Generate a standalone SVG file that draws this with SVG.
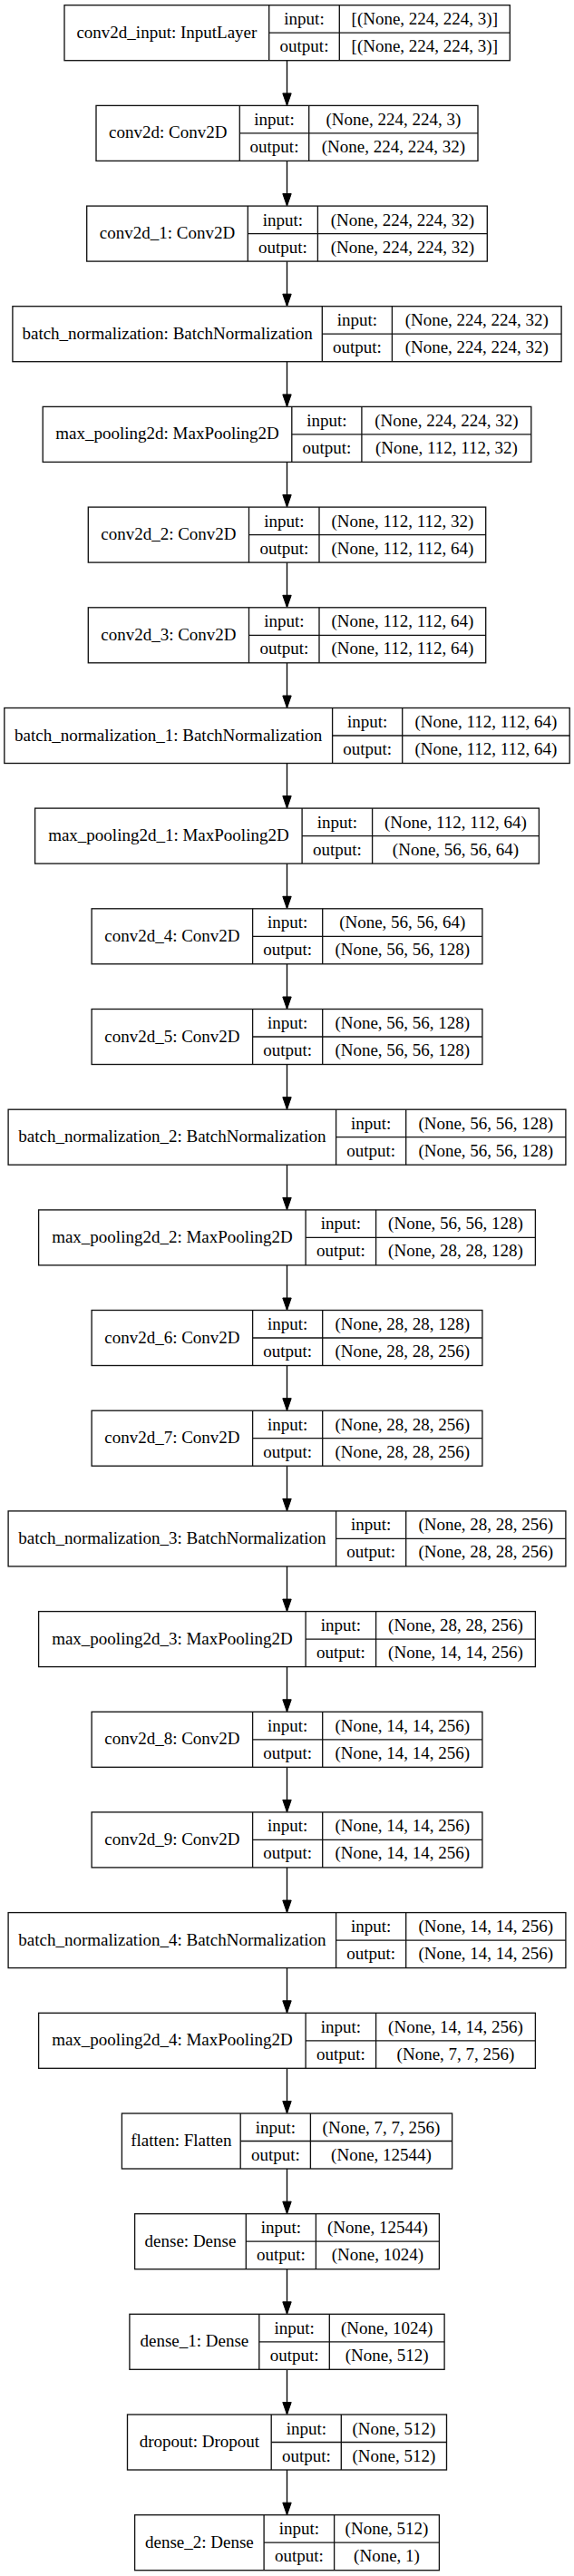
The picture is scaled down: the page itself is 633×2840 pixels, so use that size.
<svg xmlns="http://www.w3.org/2000/svg" width="633" height="2840" viewBox="0 0 633 2840">
<style>
.n rect{fill:#fff;stroke:#111;stroke-width:1.33}
.n line{stroke:#111;stroke-width:1.33}
text{font-family:"Liberation Serif","Times New Roman",serif;font-size:19px;text-anchor:middle;fill:#000}
.e line{stroke:#000;stroke-width:1.33}
</style>
<defs>
<marker id="ah" markerUnits="userSpaceOnUse" markerWidth="14" markerHeight="10" refX="13.5" refY="4.7" orient="auto" overflow="visible">
<path d="M0,0 L13.5,4.7 L0,9.4 Z" fill="#000" stroke="#000" stroke-width="1"/>
</marker>
</defs>
<rect width="633" height="2840" fill="#fff"/>
<g id="edges" class="e">
<line x1="316.5" y1="66.7" x2="316.5" y2="116.4" marker-end="url(#ah)"/>
<line x1="316.5" y1="177.4" x2="316.5" y2="227.1" marker-end="url(#ah)"/>
<line x1="316.5" y1="288.1" x2="316.5" y2="337.7" marker-end="url(#ah)"/>
<line x1="316.5" y1="398.7" x2="316.5" y2="448.4" marker-end="url(#ah)"/>
<line x1="316.5" y1="509.4" x2="316.5" y2="559.1" marker-end="url(#ah)"/>
<line x1="316.5" y1="620.1" x2="316.5" y2="669.8" marker-end="url(#ah)"/>
<line x1="316.5" y1="730.8" x2="316.5" y2="780.5" marker-end="url(#ah)"/>
<line x1="316.5" y1="841.5" x2="316.5" y2="891.1" marker-end="url(#ah)"/>
<line x1="316.5" y1="952.1" x2="316.5" y2="1001.8" marker-end="url(#ah)"/>
<line x1="316.5" y1="1062.8" x2="316.5" y2="1112.5" marker-end="url(#ah)"/>
<line x1="316.5" y1="1173.5" x2="316.5" y2="1223.2" marker-end="url(#ah)"/>
<line x1="316.5" y1="1284.2" x2="316.5" y2="1333.9" marker-end="url(#ah)"/>
<line x1="316.5" y1="1394.9" x2="316.5" y2="1444.5" marker-end="url(#ah)"/>
<line x1="316.5" y1="1505.5" x2="316.5" y2="1555.2" marker-end="url(#ah)"/>
<line x1="316.5" y1="1616.2" x2="316.5" y2="1665.9" marker-end="url(#ah)"/>
<line x1="316.5" y1="1726.9" x2="316.5" y2="1776.6" marker-end="url(#ah)"/>
<line x1="316.5" y1="1837.6" x2="316.5" y2="1887.3" marker-end="url(#ah)"/>
<line x1="316.5" y1="1948.3" x2="316.5" y2="1997.9" marker-end="url(#ah)"/>
<line x1="316.5" y1="2058.9" x2="316.5" y2="2108.6" marker-end="url(#ah)"/>
<line x1="316.5" y1="2169.6" x2="316.5" y2="2219.3" marker-end="url(#ah)"/>
<line x1="316.5" y1="2280.3" x2="316.5" y2="2330.0" marker-end="url(#ah)"/>
<line x1="316.5" y1="2391.0" x2="316.5" y2="2440.7" marker-end="url(#ah)"/>
<line x1="316.5" y1="2501.7" x2="316.5" y2="2551.3" marker-end="url(#ah)"/>
<line x1="316.5" y1="2612.3" x2="316.5" y2="2662.0" marker-end="url(#ah)"/>
<line x1="316.5" y1="2723.0" x2="316.5" y2="2772.7" marker-end="url(#ah)"/>
</g>

<g id="conv2d_input" class="n" transform="translate(0,5.7)">
<rect x="71" y="0" width="491.3" height="61"/>
<line x1="296.7" y1="0" x2="296.7" y2="61"/><line x1="374.3" y1="0" x2="374.3" y2="61"/><line x1="296.7" y1="30.5" x2="562.3" y2="30.5"/>
<text x="183.9" y="36">conv2d_input: InputLayer</text>
<text x="335.5" y="21.6">input:</text><text x="335.5" y="51.5">output:</text>
<text x="468.3" y="21.6">[(None, 224, 224, 3)]</text><text x="468.3" y="51.5">[(None, 224, 224, 3)]</text>
</g>

<g id="conv2d" class="n" transform="translate(0,116.4)">
<rect x="106" y="0" width="421" height="61"/>
<line x1="264.3" y1="0" x2="264.3" y2="61"/><line x1="340.7" y1="0" x2="340.7" y2="61"/><line x1="264.3" y1="30.5" x2="527" y2="30.5"/>
<text x="185.2" y="36">conv2d: Conv2D</text>
<text x="302.5" y="21.6">input:</text><text x="302.5" y="51.5">output:</text>
<text x="433.9" y="21.6">(None, 224, 224, 3)</text><text x="433.9" y="51.5">(None, 224, 224, 32)</text>
</g>

<g id="conv2d_1" class="n" transform="translate(0,227.1)">
<rect x="95.7" y="0" width="441.6" height="61"/>
<line x1="273.3" y1="0" x2="273.3" y2="61"/><line x1="350.4" y1="0" x2="350.4" y2="61"/><line x1="273.3" y1="30.5" x2="537.3" y2="30.5"/>
<text x="184.5" y="36">conv2d_1: Conv2D</text>
<text x="311.9" y="21.6">input:</text><text x="311.9" y="51.5">output:</text>
<text x="443.9" y="21.6">(None, 224, 224, 32)</text><text x="443.9" y="51.5">(None, 224, 224, 32)</text>
</g>

<g id="batch_normalization" class="n" transform="translate(0,337.7)">
<rect x="13.9" y="0" width="605.2" height="61"/>
<line x1="355.3" y1="0" x2="355.3" y2="61"/><line x1="432.4" y1="0" x2="432.4" y2="61"/><line x1="355.3" y1="30.5" x2="619.1" y2="30.5"/>
<text x="184.6" y="36">batch_normalization: BatchNormalization</text>
<text x="393.9" y="21.6">input:</text><text x="393.9" y="51.5">output:</text>
<text x="525.8" y="21.6">(None, 224, 224, 32)</text><text x="525.8" y="51.5">(None, 224, 224, 32)</text>
</g>

<g id="max_pooling2d" class="n" transform="translate(0,448.4)">
<rect x="47.2" y="0" width="538.6" height="61"/>
<line x1="321.8" y1="0" x2="321.8" y2="61"/><line x1="398.9" y1="0" x2="398.9" y2="61"/><line x1="321.8" y1="30.5" x2="585.8" y2="30.5"/>
<text x="184.5" y="36">max_pooling2d: MaxPooling2D</text>
<text x="360.4" y="21.6">input:</text><text x="360.4" y="51.5">output:</text>
<text x="492.4" y="21.6">(None, 224, 224, 32)</text><text x="492.4" y="51.5">(None, 112, 112, 32)</text>
</g>

<g id="conv2d_2" class="n" transform="translate(0,559.1)">
<rect x="97.3" y="0" width="438.4" height="61"/>
<line x1="274.5" y1="0" x2="274.5" y2="61"/><line x1="352" y1="0" x2="352" y2="61"/><line x1="274.5" y1="30.5" x2="535.7" y2="30.5"/>
<text x="185.9" y="36">conv2d_2: Conv2D</text>
<text x="313.3" y="21.6">input:</text><text x="313.3" y="51.5">output:</text>
<text x="443.9" y="21.6">(None, 112, 112, 32)</text><text x="443.9" y="51.5">(None, 112, 112, 64)</text>
</g>

<g id="conv2d_3" class="n" transform="translate(0,669.8)">
<rect x="97.3" y="0" width="438.4" height="61"/>
<line x1="274.5" y1="0" x2="274.5" y2="61"/><line x1="352" y1="0" x2="352" y2="61"/><line x1="274.5" y1="30.5" x2="535.7" y2="30.5"/>
<text x="185.9" y="36">conv2d_3: Conv2D</text>
<text x="313.3" y="21.6">input:</text><text x="313.3" y="51.5">output:</text>
<text x="443.9" y="21.6">(None, 112, 112, 64)</text><text x="443.9" y="51.5">(None, 112, 112, 64)</text>
</g>

<g id="batch_normalization_1" class="n" transform="translate(0,780.5)">
<rect x="4.8" y="0" width="623.4" height="61"/>
<line x1="366.6" y1="0" x2="366.6" y2="61"/><line x1="443.7" y1="0" x2="443.7" y2="61"/><line x1="366.6" y1="30.5" x2="628.2" y2="30.5"/>
<text x="185.7" y="36">batch_normalization_1: BatchNormalization</text>
<text x="405.2" y="21.6">input:</text><text x="405.2" y="51.5">output:</text>
<text x="536" y="21.6">(None, 112, 112, 64)</text><text x="536" y="51.5">(None, 112, 112, 64)</text>
</g>

<g id="max_pooling2d_1" class="n" transform="translate(0,891.1)">
<rect x="38.6" y="0" width="555.8" height="61"/>
<line x1="333.1" y1="0" x2="333.1" y2="61"/><line x1="410.6" y1="0" x2="410.6" y2="61"/><line x1="333.1" y1="30.5" x2="594.4" y2="30.5"/>
<text x="185.9" y="36">max_pooling2d_1: MaxPooling2D</text>
<text x="371.9" y="21.6">input:</text><text x="371.9" y="51.5">output:</text>
<text x="502.5" y="21.6">(None, 112, 112, 64)</text><text x="502.5" y="51.5">(None, 56, 56, 64)</text>
</g>

<g id="conv2d_4" class="n" transform="translate(0,1001.8)">
<rect x="101.1" y="0" width="430.8" height="61"/>
<line x1="278.6" y1="0" x2="278.6" y2="61"/><line x1="355.7" y1="0" x2="355.7" y2="61"/><line x1="278.6" y1="30.5" x2="531.9" y2="30.5"/>
<text x="189.9" y="36">conv2d_4: Conv2D</text>
<text x="317.2" y="21.6">input:</text><text x="317.2" y="51.5">output:</text>
<text x="443.8" y="21.6">(None, 56, 56, 64)</text><text x="443.8" y="51.5">(None, 56, 56, 128)</text>
</g>

<g id="conv2d_5" class="n" transform="translate(0,1112.5)">
<rect x="101.1" y="0" width="430.8" height="61"/>
<line x1="278.6" y1="0" x2="278.6" y2="61"/><line x1="355.7" y1="0" x2="355.7" y2="61"/><line x1="278.6" y1="30.5" x2="531.9" y2="30.5"/>
<text x="189.9" y="36">conv2d_5: Conv2D</text>
<text x="317.2" y="21.6">input:</text><text x="317.2" y="51.5">output:</text>
<text x="443.8" y="21.6">(None, 56, 56, 128)</text><text x="443.8" y="51.5">(None, 56, 56, 128)</text>
</g>

<g id="batch_normalization_2" class="n" transform="translate(0,1223.2)">
<rect x="9.1" y="0" width="614.8" height="61"/>
<line x1="370.6" y1="0" x2="370.6" y2="61"/><line x1="447.7" y1="0" x2="447.7" y2="61"/><line x1="370.6" y1="30.5" x2="623.9" y2="30.5"/>
<text x="189.9" y="36">batch_normalization_2: BatchNormalization</text>
<text x="409.2" y="21.6">input:</text><text x="409.2" y="51.5">output:</text>
<text x="535.8" y="21.6">(None, 56, 56, 128)</text><text x="535.8" y="51.5">(None, 56, 56, 128)</text>
</g>

<g id="max_pooling2d_2" class="n" transform="translate(0,1333.9)">
<rect x="42.6" y="0" width="547.8" height="61"/>
<line x1="337.1" y1="0" x2="337.1" y2="61"/><line x1="414.6" y1="0" x2="414.6" y2="61"/><line x1="337.1" y1="30.5" x2="590.4" y2="30.5"/>
<text x="189.9" y="36">max_pooling2d_2: MaxPooling2D</text>
<text x="375.9" y="21.6">input:</text><text x="375.9" y="51.5">output:</text>
<text x="502.5" y="21.6">(None, 56, 56, 128)</text><text x="502.5" y="51.5">(None, 28, 28, 128)</text>
</g>

<g id="conv2d_6" class="n" transform="translate(0,1444.5)">
<rect x="101.1" y="0" width="430.8" height="61"/>
<line x1="278.6" y1="0" x2="278.6" y2="61"/><line x1="355.7" y1="0" x2="355.7" y2="61"/><line x1="278.6" y1="30.5" x2="531.9" y2="30.5"/>
<text x="189.9" y="36">conv2d_6: Conv2D</text>
<text x="317.2" y="21.6">input:</text><text x="317.2" y="51.5">output:</text>
<text x="443.8" y="21.6">(None, 28, 28, 128)</text><text x="443.8" y="51.5">(None, 28, 28, 256)</text>
</g>

<g id="conv2d_7" class="n" transform="translate(0,1555.2)">
<rect x="101.1" y="0" width="430.8" height="61"/>
<line x1="278.6" y1="0" x2="278.6" y2="61"/><line x1="355.7" y1="0" x2="355.7" y2="61"/><line x1="278.6" y1="30.5" x2="531.9" y2="30.5"/>
<text x="189.9" y="36">conv2d_7: Conv2D</text>
<text x="317.2" y="21.6">input:</text><text x="317.2" y="51.5">output:</text>
<text x="443.8" y="21.6">(None, 28, 28, 256)</text><text x="443.8" y="51.5">(None, 28, 28, 256)</text>
</g>

<g id="batch_normalization_3" class="n" transform="translate(0,1665.9)">
<rect x="9.1" y="0" width="614.8" height="61"/>
<line x1="370.6" y1="0" x2="370.6" y2="61"/><line x1="447.7" y1="0" x2="447.7" y2="61"/><line x1="370.6" y1="30.5" x2="623.9" y2="30.5"/>
<text x="189.9" y="36">batch_normalization_3: BatchNormalization</text>
<text x="409.2" y="21.6">input:</text><text x="409.2" y="51.5">output:</text>
<text x="535.8" y="21.6">(None, 28, 28, 256)</text><text x="535.8" y="51.5">(None, 28, 28, 256)</text>
</g>

<g id="max_pooling2d_3" class="n" transform="translate(0,1776.6)">
<rect x="42.6" y="0" width="547.8" height="61"/>
<line x1="337.1" y1="0" x2="337.1" y2="61"/><line x1="414.6" y1="0" x2="414.6" y2="61"/><line x1="337.1" y1="30.5" x2="590.4" y2="30.5"/>
<text x="189.9" y="36">max_pooling2d_3: MaxPooling2D</text>
<text x="375.9" y="21.6">input:</text><text x="375.9" y="51.5">output:</text>
<text x="502.5" y="21.6">(None, 28, 28, 256)</text><text x="502.5" y="51.5">(None, 14, 14, 256)</text>
</g>

<g id="conv2d_8" class="n" transform="translate(0,1887.3)">
<rect x="101.1" y="0" width="430.8" height="61"/>
<line x1="278.6" y1="0" x2="278.6" y2="61"/><line x1="355.7" y1="0" x2="355.7" y2="61"/><line x1="278.6" y1="30.5" x2="531.9" y2="30.5"/>
<text x="189.9" y="36">conv2d_8: Conv2D</text>
<text x="317.2" y="21.6">input:</text><text x="317.2" y="51.5">output:</text>
<text x="443.8" y="21.6">(None, 14, 14, 256)</text><text x="443.8" y="51.5">(None, 14, 14, 256)</text>
</g>

<g id="conv2d_9" class="n" transform="translate(0,1997.9)">
<rect x="101.1" y="0" width="430.8" height="61"/>
<line x1="278.6" y1="0" x2="278.6" y2="61"/><line x1="355.7" y1="0" x2="355.7" y2="61"/><line x1="278.6" y1="30.5" x2="531.9" y2="30.5"/>
<text x="189.9" y="36">conv2d_9: Conv2D</text>
<text x="317.2" y="21.6">input:</text><text x="317.2" y="51.5">output:</text>
<text x="443.8" y="21.6">(None, 14, 14, 256)</text><text x="443.8" y="51.5">(None, 14, 14, 256)</text>
</g>

<g id="batch_normalization_4" class="n" transform="translate(0,2108.6)">
<rect x="9.1" y="0" width="614.8" height="61"/>
<line x1="370.6" y1="0" x2="370.6" y2="61"/><line x1="447.7" y1="0" x2="447.7" y2="61"/><line x1="370.6" y1="30.5" x2="623.9" y2="30.5"/>
<text x="189.9" y="36">batch_normalization_4: BatchNormalization</text>
<text x="409.2" y="21.6">input:</text><text x="409.2" y="51.5">output:</text>
<text x="535.8" y="21.6">(None, 14, 14, 256)</text><text x="535.8" y="51.5">(None, 14, 14, 256)</text>
</g>

<g id="max_pooling2d_4" class="n" transform="translate(0,2219.3)">
<rect x="42.6" y="0" width="547.8" height="61"/>
<line x1="337.1" y1="0" x2="337.1" y2="61"/><line x1="414.6" y1="0" x2="414.6" y2="61"/><line x1="337.1" y1="30.5" x2="590.4" y2="30.5"/>
<text x="189.9" y="36">max_pooling2d_4: MaxPooling2D</text>
<text x="375.9" y="21.6">input:</text><text x="375.9" y="51.5">output:</text>
<text x="502.5" y="21.6">(None, 14, 14, 256)</text><text x="502.5" y="51.5">(None, 7, 7, 256)</text>
</g>

<g id="flatten" class="n" transform="translate(0,2330)">
<rect x="134.4" y="0" width="364.2" height="61"/>
<line x1="265.2" y1="0" x2="265.2" y2="61"/><line x1="342.4" y1="0" x2="342.4" y2="61"/><line x1="265.2" y1="30.5" x2="498.6" y2="30.5"/>
<text x="199.8" y="36">flatten: Flatten</text>
<text x="303.8" y="21.6">input:</text><text x="303.8" y="51.5">output:</text>
<text x="420.5" y="21.6">(None, 7, 7, 256)</text><text x="420.5" y="51.5">(None, 12544)</text>
</g>

<g id="dense" class="n" transform="translate(0,2440.7)">
<rect x="148.6" y="0" width="335.8" height="61"/>
<line x1="271.3" y1="0" x2="271.3" y2="61"/><line x1="348.4" y1="0" x2="348.4" y2="61"/><line x1="271.3" y1="30.5" x2="484.4" y2="30.5"/>
<text x="210" y="36">dense: Dense</text>
<text x="309.9" y="21.6">input:</text><text x="309.9" y="51.5">output:</text>
<text x="416.4" y="21.6">(None, 12544)</text><text x="416.4" y="51.5">(None, 1024)</text>
</g>

<g id="dense_1" class="n" transform="translate(0,2551.3)">
<rect x="142.9" y="0" width="347.2" height="61"/>
<line x1="285.8" y1="0" x2="285.8" y2="61"/><line x1="363.3" y1="0" x2="363.3" y2="61"/><line x1="285.8" y1="30.5" x2="490.1" y2="30.5"/>
<text x="214.4" y="36">dense_1: Dense</text>
<text x="324.6" y="21.6">input:</text><text x="324.6" y="51.5">output:</text>
<text x="426.7" y="21.6">(None, 1024)</text><text x="426.7" y="51.5">(None, 512)</text>
</g>

<g id="dropout" class="n" transform="translate(0,2662)">
<rect x="140.5" y="0" width="352" height="61"/>
<line x1="299.2" y1="0" x2="299.2" y2="61"/><line x1="376.3" y1="0" x2="376.3" y2="61"/><line x1="299.2" y1="30.5" x2="492.5" y2="30.5"/>
<text x="219.9" y="36">dropout: Dropout</text>
<text x="337.8" y="21.6">input:</text><text x="337.8" y="51.5">output:</text>
<text x="434.4" y="21.6">(None, 512)</text><text x="434.4" y="51.5">(None, 512)</text>
</g>

<g id="dense_2" class="n" transform="translate(0,2772.7)">
<rect x="148.6" y="0" width="335.8" height="61"/>
<line x1="291.1" y1="0" x2="291.1" y2="61"/><line x1="368.6" y1="0" x2="368.6" y2="61"/><line x1="291.1" y1="30.5" x2="484.4" y2="30.5"/>
<text x="219.9" y="36">dense_2: Dense</text>
<text x="329.9" y="21.6">input:</text><text x="329.9" y="51.5">output:</text>
<text x="426.5" y="21.6">(None, 512)</text><text x="426.5" y="51.5">(None, 1)</text>
</g>
</svg>
